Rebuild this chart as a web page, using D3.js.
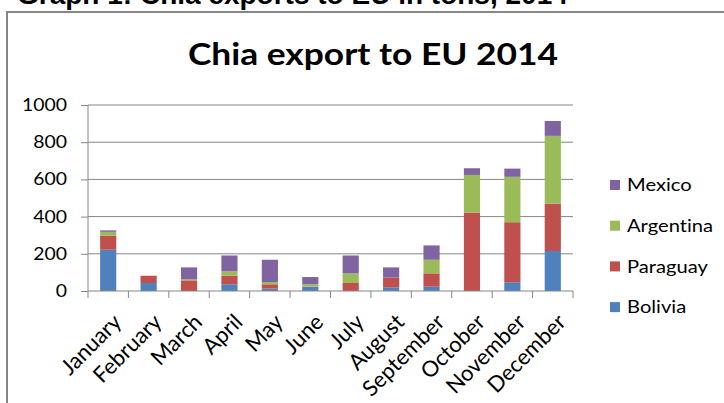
<!DOCTYPE html>
<html><head><meta charset="utf-8">
<script src="https://cdn.jsdelivr.net/npm/d3@7"></script>
<style>body{margin:0;background:#fff}svg{display:block}text{font-variant-ligatures:none}</style>
</head><body>
<svg id="c" width="724" height="403"></svg>
<script>
const months = ["January","February","March","April","May","June","July","August","September","October","November","December"];
const seriesNames = ["Bolivia","Paraguay","Argentina","Mexico"];
const bolivia   = [222, 43, 0, 36, 13, 23, 0, 20, 23, 0, 47, 215];
const paraguay  = [75, 39, 57, 46, 23, 0, 43, 52, 72, 422, 323, 255];
const argentina = [21, 0, 7, 24, 12, 13, 52, 0, 73, 202, 244, 364];
const mexico    = [8, 0, 63, 85, 120, 39, 96, 55, 77, 36, 44, 80];
const yTicks = [0, 200, 400, 600, 800, 1000];
const colors = ["#4F81BD","#C0504D","#9BBB59","#8064A2"];

const svg = d3.select("#c");
const font = "Lato, 'Open Sans', sans-serif";
const SX = 1.14; // horizontal stretch of the reference text

// outer caption (cropped at top)
svg.append("text").attr("x", 17).attr("y", 4)
  .attr("font-family", "'Liberation Sans', Arial, sans-serif").attr("font-weight", "bold")
  .attr("font-size", 28).attr("fill", "#000")
  .text("Graph 1: Chia exports to EU in tons, 2014");

// chart border
svg.append("rect").attr("x", 7).attr("y", 12).attr("width", 800).attr("height", 500)
  .attr("fill", "#fff").attr("stroke", "#868686").attr("stroke-width", 2);

// title
svg.append("text").attr("transform", `translate(373,65) scale(${SX},1)`).attr("text-anchor", "middle")
  .attr("font-family", font).attr("font-weight", "bold").attr("font-size", 31)
  .attr("fill", "#000").text("Chia export to EU 2014");

const x = d3.scaleBand().domain(months).range([88, 573]).padding(0);
const y = d3.scaleLinear().domain([0, 1000]).range([291, 105]);

// gridlines
svg.append("g").selectAll("line").data(yTicks.filter(d => d > 0)).join("line")
  .attr("x1", 88).attr("x2", 573).attr("y1", d => y(d)).attr("y2", d => y(d))
  .attr("stroke", "#868686").attr("stroke-width", 1);

// stack
const table = months.map((m, i) => ({month: m, Bolivia: bolivia[i], Paraguay: paraguay[i], Argentina: argentina[i], Mexico: mexico[i]}));
const stack = d3.stack().keys(seriesNames)(table);
const bw = x.bandwidth() / 2.5;
svg.append("g").selectAll("g").data(stack).join("g")
  .attr("fill", (d, i) => colors[i])
  .selectAll("rect").data(d => d).join("rect")
  .attr("x", d => x(d.data.month) + (x.bandwidth() - bw) / 2)
  .attr("width", bw)
  .attr("y", d => y(d[1]))
  .attr("height", d => y(d[0]) - y(d[1]));

// y axis
const yAxis = d3.axisLeft(y).tickValues(yTicks).tickSize(7).tickPadding(14).tickFormat(d3.format("d"));
const ga = svg.append("g").attr("transform", "translate(88,0)").call(yAxis);
ga.select(".domain").attr("stroke", "#868686").attr("d", "M0,291V105");
ga.selectAll(".tick line").attr("stroke", "#868686");
ga.selectAll("text").attr("x", 0).attr("transform", `translate(-21,0) scale(${SX},1)`)
  .attr("font-family", font).attr("font-size", 17).attr("fill", "#000");

// x axis
const gx = svg.append("g").attr("transform", "translate(0,291)");
gx.append("line").attr("x1", 88).attr("x2", 573).attr("stroke", "#868686");
gx.selectAll("line.tk").data(d3.range(months.length + 1)).join("line").attr("class", "tk")
  .attr("x1", i => 88 + i * x.bandwidth()).attr("x2", i => 88 + i * x.bandwidth())
  .attr("y1", 0).attr("y2", 7).attr("stroke", "#868686");
gx.selectAll("text").data(months).join("text")
  .attr("transform", d => `translate(${x(d) + x.bandwidth() / 2 + 9},${27}) rotate(-45)`)
  .attr("text-anchor", "end").attr("dy", "0.35em")
  .attr("font-family", font).attr("font-size", 22).attr("fill", "#000")
  .text(d => d);

// legend
const legendOrder = [3, 2, 1, 0];
const lg = svg.append("g");
legendOrder.forEach((si, k) => {
  const cy = 185 + k * 40.7;
  lg.append("rect").attr("x", 610).attr("y", cy - 5).attr("width", 10).attr("height", 10).attr("fill", colors[si]);
  lg.append("text").attr("transform", `translate(627,${cy}) scale(1.12,1)`).attr("dy", "0.35em")
    .attr("font-family", font).attr("font-size", 18).attr("fill", "#000").text(seriesNames[si]);
});
</script>
</body></html>
